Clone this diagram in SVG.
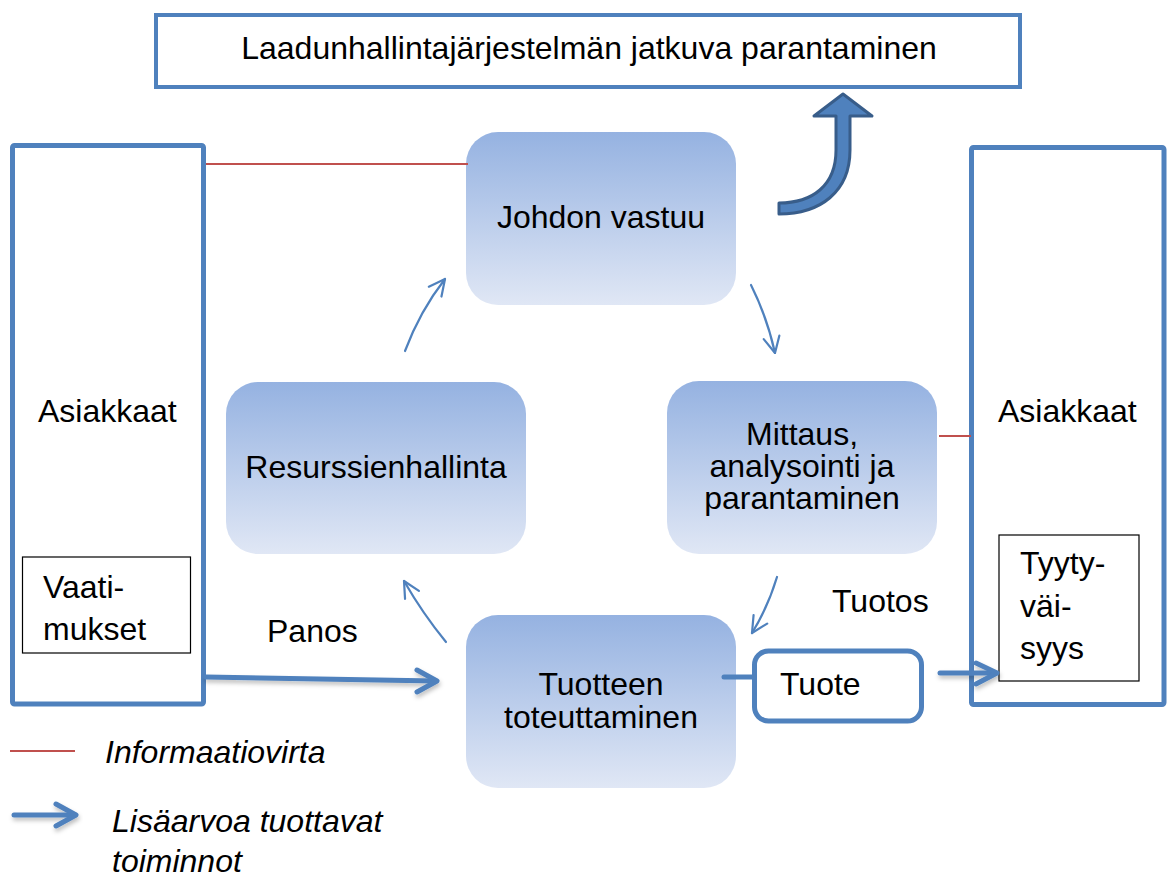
<svg xmlns="http://www.w3.org/2000/svg" width="1168" height="874" viewBox="0 0 1168 874">
  <defs>
    <linearGradient id="nodeFill" x1="0" y1="0" x2="0" y2="1">
      <stop offset="0" stop-color="#95b2e1"/>
      <stop offset="1" stop-color="#e0e7f5"/>
    </linearGradient>
    <filter id="soft" x="-10%" y="-50%" width="120%" height="200%">
      <feDropShadow dx="1" dy="3" stdDeviation="2" flood-color="#000" flood-opacity="0.25"/>
    </filter>
    <marker id="thinHead" viewBox="0 0 20 20" refX="18" refY="10" markerWidth="20" markerHeight="20" markerUnits="userSpaceOnUse" orient="auto">
      <path d="M2,2 L18,10 L2,18" fill="none" stroke="#4f81bd" stroke-width="2.2" stroke-linecap="round" stroke-linejoin="round"/>
    </marker>
  </defs>
  <style>
    text { font-family: "Liberation Sans", Arial, sans-serif; font-size: 32px; fill: #000; }
    .mid { text-anchor: middle; }
    .it { font-style: italic; }
    .frame { fill: #fff; stroke: #4f81bd; stroke-width: 5; }
    .node { fill: url(#nodeFill); }
    .thinbox { fill: #fff; stroke: #000; stroke-width: 1.2; }
    .info { stroke: #c0504d; stroke-width: 2; fill: none; }
    .flow { stroke: #4f81bd; stroke-width: 5; fill: none; stroke-linecap: round; stroke-linejoin: round; }
    .cycle { stroke: #4f81bd; stroke-width: 2.2; fill: none; stroke-linecap: round; marker-end: url(#thinHead); }
  </style>
  <rect width="1168" height="874" fill="#fff"/>

  <!-- top goal -->
  <g id="goal">
    <rect x="156" y="15" width="864" height="72" fill="#fff" stroke="#4f81bd" stroke-width="4"/>
    <text x="589" y="59" class="mid">Laadunhallintajärjestelmän jatkuva parantaminen</text>
  </g>

  <!-- customers, input side -->
  <g id="customers-in">
    <rect class="frame" x="12.5" y="145.5" width="191" height="558.5" rx="2"/>
    <text x="38" y="422">Asiakkaat</text>
  </g>
  <g id="requirements">
    <rect class="thinbox" x="22.5" y="557" width="168" height="96"/>
    <text x="43" y="598">Vaati-</text>
    <text x="43" y="640">mukset</text>
  </g>

  <!-- customers, output side -->
  <g id="customers-out">
    <rect class="frame" x="971.5" y="147.5" width="192.5" height="557" rx="2"/>
    <text x="998" y="422">Asiakkaat</text>
  </g>
  <g id="satisfaction">
    <rect class="thinbox" x="999" y="535" width="140" height="146"/>
    <text x="1020" y="574">Tyyty-</text>
    <text x="1020" y="617">väi-</text>
    <text x="1020" y="659">syys</text>
  </g>

  <!-- process nodes -->
  <g id="management">
    <rect class="node" x="466" y="132" width="270" height="173" rx="32"/>
    <text x="601" y="228" class="mid">Johdon vastuu</text>
  </g>
  <g id="resources">
    <rect class="node" x="226" y="382" width="300" height="172" rx="32"/>
    <text x="376" y="478" class="mid">Resurssienhallinta</text>
  </g>
  <g id="measurement">
    <rect class="node" x="667" y="381" width="270" height="173" rx="32"/>
    <text x="802" y="445" class="mid">Mittaus,</text>
    <text x="802" y="477" class="mid">analysointi ja</text>
    <text x="802" y="509" class="mid">parantaminen</text>
  </g>
  <g id="realization">
    <rect class="node" x="466" y="615" width="270" height="173" rx="32"/>
    <text x="601" y="695" class="mid">Tuotteen</text>
    <text x="601" y="728" class="mid">toteuttaminen</text>
  </g>
  <g id="product">
    <rect x="754.5" y="651" width="167" height="70" rx="14" fill="#fff" stroke="#4f81bd" stroke-width="5"/>
    <text x="780" y="695">Tuote</text>
  </g>

  <!-- flow labels -->
  <text x="267" y="642">Panos</text>
  <text x="832" y="612">Tuotos</text>

  <!-- connectors -->
  <g id="connectors">
    <!-- information flow -->
    <line class="info" x1="206" y1="164" x2="468" y2="164"/>
    <line class="info" x1="939" y1="436" x2="971" y2="436"/>

    <!-- improvement cycle -->
    <path class="cycle" d="M405,351 Q420,311 445,279"/>
    <path class="cycle" d="M751,285 Q767,317 775,353"/>
    <path class="cycle" d="M777,577 Q768,607 752,633"/>
    <path class="cycle" d="M446,642 Q423,614 404,581"/>

    <!-- value-adding flows -->
    <g filter="url(#soft)">
      <path class="flow" d="M206,677 L436,681"/>
      <path class="flow" d="M417,670 L437,681 L417,692"/>
      <path class="flow" d="M940,673 L996,673"/>
      <path class="flow" d="M976,663 L997,673 L976,684"/>
    </g>
    <line class="flow" x1="724" y1="677" x2="754" y2="677" stroke-linecap="butt"/>

    <!-- continual improvement arrow -->
    <path d="M779,203 C812,203 836,186 836,150 L836,116 L814,116 L843,94 L872,116 L850,116 L850,150 C850,192 820,214 779,214 Z" fill="#4f81bd" stroke="#385d8a" stroke-width="3" stroke-linejoin="round"/>
  </g>

  <!-- legend -->
  <g id="legend">
    <line class="info" x1="10" y1="751" x2="75" y2="751"/>
    <text x="105" y="763" class="it">Informaatiovirta</text>
    <g filter="url(#soft)">
      <path class="flow" d="M14,815 L75,815"/>
      <path class="flow" d="M56,804 L76,815 L56,826"/>
    </g>
    <text x="112" y="832" class="it">Lisäarvoa tuottavat</text>
    <text x="112" y="872" class="it">toiminnot</text>
  </g>
</svg>
